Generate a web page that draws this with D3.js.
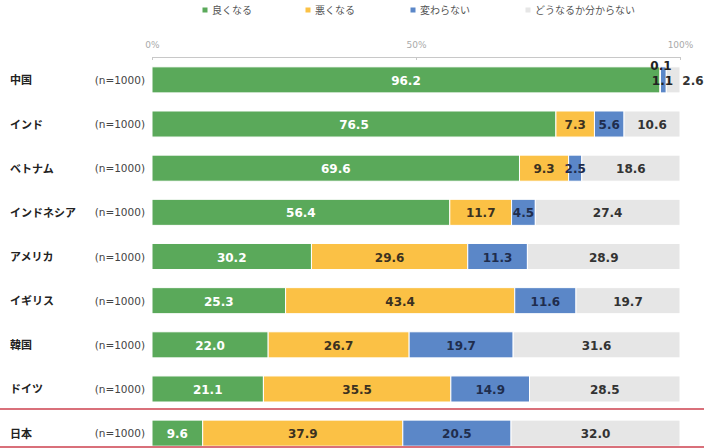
<!DOCTYPE html>
<html><head><meta charset="utf-8">
<script src="https://cdn.jsdelivr.net/npm/d3@7"></script>
<style>
html,body{margin:0;padding:0;background:#fff;}
svg{display:block;}
</style>
</head><body>
<script>
const countries = ["中国","インド","ベトナム","インドネシア","アメリカ","イギリス","韓国","ドイツ","日本"];
const sampleLabels = ["(n=1000)","(n=1000)","(n=1000)","(n=1000)","(n=1000)","(n=1000)","(n=1000)","(n=1000)","(n=1000)"];
const seriesNames = ["良くなる","悪くなる","変わらない","どうなるか分からない"];
const better   = [96.2, 76.5, 69.6, 56.4, 30.2, 25.3, 22.0, 21.1, 9.6];
const worse    = [0.1, 7.3, 9.3, 11.7, 29.6, 43.4, 26.7, 35.5, 37.9];
const same     = [1.1, 5.6, 2.5, 4.5, 11.3, 11.6, 19.7, 14.9, 20.5];
const unknown  = [2.6, 10.6, 18.6, 27.4, 28.9, 19.7, 31.6, 28.5, 32.0];
const tickValues = [0, 50, 100];
const tickLabels = ["0%","50%","100%"];

const colors = ["#5aa95a","#fbc145","#5b87c8","#e6e6e6"];
const textColors = ["#ffffff","#3b3120","#1f2d4d","#333333"];

const W = 704, H = 448;
const svg = d3.select("body").append("svg").attr("width",W).attr("height",H);

const x = d3.scaleLinear().domain([0,100]).range([152,680]);
const y = d3.scaleBand().domain(countries).range([58, 455]).paddingInner(0.41).paddingOuter(0.2);

// legend
const legX = [205, 308, 413, 528];
const leg = svg.append("g");
seriesNames.forEach((n,i)=>{
  leg.append("rect").attr("x",legX[i]-2.5).attr("y",7.5).attr("width",5).attr("height",5).attr("fill",colors[i]);
  leg.append("text").attr("x",legX[i]+7).attr("y",14).text(n)
    .attr("font-family","'Noto Sans CJK JP'").attr("font-size",10).attr("fill","#555");
});

// axis
const axis = d3.axisTop(x).tickValues(tickValues).tickFormat((d,i)=>tickLabels[i]).tickSize(3).tickSizeOuter(0);
const ag = svg.append("g").attr("transform","translate(0,57)").call(axis);
ag.select(".domain").attr("stroke","#c8c8c8");
ag.selectAll(".tick line").attr("stroke","#c8c8c8").attr("y2",3);
ag.selectAll(".tick text").attr("y",-9).attr("font-family","'DejaVu Sans'").attr("font-size",9).attr("fill","#aaa");

const data = countries.map((c,i)=>{
  const vals=[better[i],worse[i],same[i],unknown[i]];
  let acc=0;
  return {c, segs: vals.map((v,k)=>{const s={k,v,x0:acc,x1:acc+v};acc+=v;return s;})};
});

// labels
const rows = svg.selectAll("g.row").data(data).join("g").attr("class","row");
rows.append("text").attr("x",10).attr("y",d=>y(d.c)+y.bandwidth()/2+4.5).text(d=>d.c)
  .attr("font-family","'Noto Sans CJK JP'").attr("font-weight","bold").attr("font-size",11).attr("fill","#222");
rows.append("text").attr("x",145).attr("text-anchor","end").attr("y",d=>y(d.c)+y.bandwidth()/2+4)
  .text((d,i)=>sampleLabels[i])
  .attr("font-family","'DejaVu Sans'").attr("font-size",10.5).attr("fill","#444");

rows.selectAll("rect").data(d=>d.segs.map(s=>({...s,c:d.c}))).join("rect")
  .attr("x",s=>x(s.x0)).attr("width",s=>x(s.x1)-x(s.x0))
  .attr("y",s=>y(s.c)).attr("height",y.bandwidth())
  .attr("fill",s=>colors[s.k]).attr("stroke","#fff").attr("stroke-width",1);

rows.each(function(d,i){
  const g=d3.select(this);
  const cy=y(d.c)+y.bandwidth()/2+5;
  d.segs.forEach(s=>{
    let tx=(x(s.x0)+x(s.x1))/2, ty=cy;
    if(d.c==="中国"){
      if(s.k===1){ tx=x(s.x0)+1; ty=y(d.c)+3; }
      else if(s.k===2){ tx=x(s.x0)+2; }
      else if(s.k===3){ tx=x(100)+13; }
    }
    g.append("text").attr("x",tx).attr("y",ty).attr("text-anchor","middle").text(s.v.toFixed(1))
      .attr("font-family","'DejaVu Sans'").attr("font-weight","bold").attr("font-size",12)
      .attr("fill", (d.c==="中国" && s.k===3) ? "#333" : (d.c==="中国"&&s.k>0? "#222": textColors[s.k]));
  });
});

// red highlight lines around Japan
const jy = y("日本");
[jy-11, H-1].forEach(yy=>{
  svg.append("line").attr("x1",0).attr("x2",W).attr("y1",yy).attr("y2",yy)
    .attr("stroke","#d9707a").attr("stroke-width",2);
});
</script>
</body></html>
